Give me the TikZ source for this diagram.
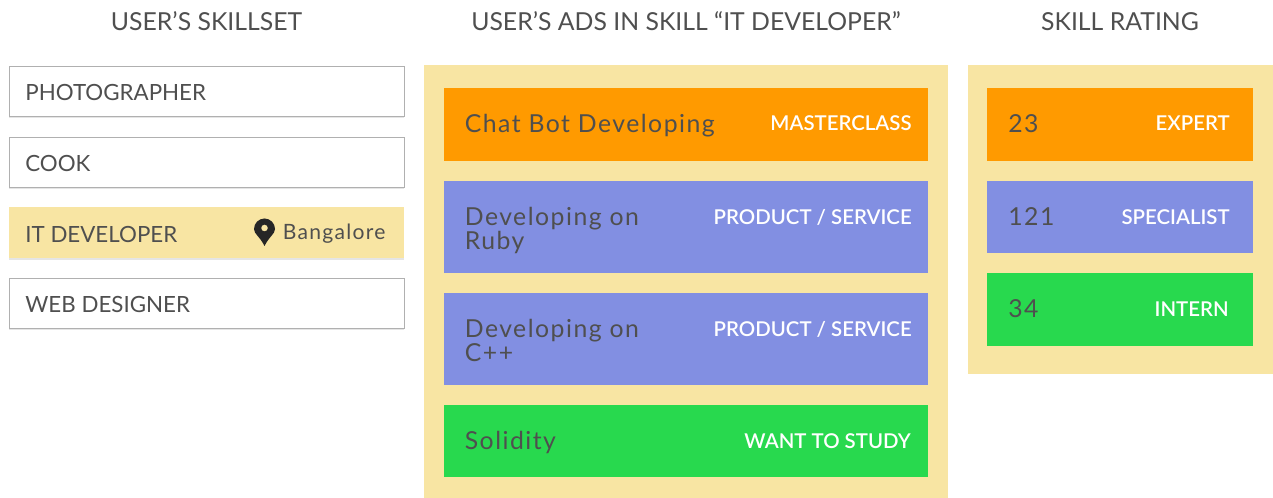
\documentclass[tikz,border=0pt]{standalone}
\usepackage{fontspec}
\setmainfont{Lato}
\newfontfamily\cardfont[LetterSpace=6]{Lato}
\newfontfamily\tagfont{Lato Semibold}
\usetikzlibrary{shadows}
\definecolor{panelyellow}{HTML}{F8E5A3}
\definecolor{cardorange}{HTML}{FF9A00}
\definecolor{cardblue}{HTML}{828FE2}
\definecolor{cardgreen}{HTML}{28D94E}
\definecolor{inkgrey}{HTML}{4F4F4F}
\definecolor{edgegrey}{HTML}{B0B0B0}
\tikzset{
  softshadow/.style={drop shadow={shadow xshift=0cm,shadow yshift=-.04cm,opacity=.1,fill=black}},
  skillbox/.style={draw=edgegrey,line width=.5pt,fill=white,softshadow},
  skillboxon/.style={fill=panelyellow,softshadow},
  headtext/.style={anchor=base,text=inkgrey,font=\fontsize{14.1}{16}\selectfont},
  skilltext/.style={anchor=base west,text=inkgrey,inner sep=0pt,font=\fontsize{12.7}{15}\selectfont},
  cardtext/.style={anchor=base west,text=inkgrey,inner sep=0pt,font=\cardfont\fontsize{14.1}{15}\selectfont},
  tagtext/.style={anchor=base east,text=white,inner sep=0pt,font=\tagfont\fontsize{11.6}{13}\selectfont}
}
\begin{document}
\begin{tikzpicture}
\useasboundingbox (0.,0.) rectangle (25.46,9.96);
% headings
\node[headtext] (headskills) at (4.13,9.34) {USER'S SKILLSET};
\node[headtext] (headads) at (13.72,9.34) {USER'S ADS IN SKILL “IT DEVELOPER”};
\node[headtext] (headrating) at (22.4,9.34) {SKILL RATING};
% skill list
\draw [skillbox] (0.18,8.64) rectangle (8.08,7.64);
\draw [skillbox] (0.18,7.22) rectangle (8.08,6.22);
\fill [skillboxon] (0.18,5.81) rectangle (8.08,4.8);
\draw [skillbox] (0.18,4.39) rectangle (8.08,3.4);
\node[skilltext] (photographer) at (0.5,7.94) {PHOTOGRAPHER};
\node[skilltext] (cook) at (0.5,6.52) {COOK};
\node[skilltext] (itdeveloper) at (0.5,5.1) {IT DEVELOPER};
\node[skilltext] (webdesigner) at (0.5,3.7) {WEB DESIGNER};
\node[cardtext,font=\cardfont\fontsize{12}{14}\selectfont] (bangalore) at (5.65,5.17) {Bangalore};
% pin
\fill [black!85] (5.29,5.04) .. controls (5.19,5.24) and (5.08,5.28) .. (5.08,5.38) arc (180:0:.21) .. controls (5.5,5.28) and (5.39,5.24) .. (5.29,5.04);
\fill [panelyellow] (5.29,5.4) circle (.065);
% panels
\fill [panelyellow] (8.48,0.) rectangle (18.96,8.66);
\fill [panelyellow] (19.35,2.48) rectangle (25.46,8.66);
% ads
\fill [cardorange] (8.87,8.19) rectangle (18.56,6.74);
\fill [cardblue] (8.87,6.34) rectangle (18.56,4.5);
\fill [cardblue] (8.87,4.1) rectangle (18.56,2.26);
\fill [cardgreen] (8.87,1.86) rectangle (18.56,0.42);
\node[cardtext] (chatbot) at (9.29,7.3) {Chat Bot Developing};
\node[cardtext] (rubyone) at (9.29,5.44) {Developing on};
\node[cardtext] (rubytwo) at (9.29,4.96) {Ruby};
\node[cardtext] (cppone) at (9.29,3.2) {Developing on};
\node[cardtext] (cpptwo) at (9.29,2.72) {C++};
\node[cardtext] (solidity) at (9.29,0.96) {Solidity};
\node[tagtext] (masterclass) at (18.24,7.34) {MASTERCLASS};
\node[tagtext] (productone) at (18.24,5.46) {PRODUCT / SERVICE};
\node[tagtext] (producttwo) at (18.24,3.22) {PRODUCT / SERVICE};
\node[tagtext] (wantstudy) at (18.22,0.98) {WANT TO STUDY};
% rating
\fill [cardorange] (19.74,8.19) rectangle (25.06,6.74);
\fill [cardblue] (19.74,6.34) rectangle (25.06,4.9);
\fill [cardgreen] (19.74,4.5) rectangle (25.06,3.04);
\node[cardtext] (numexpert) at (20.16,7.3) {23};
\node[cardtext] (numspecialist) at (20.16,5.44) {121};
\node[cardtext] (numintern) at (20.16,3.6) {34};
\node[tagtext] (expert) at (24.6,7.34) {EXPERT};
\node[tagtext] (specialist) at (24.6,5.46) {SPECIALIST};
\node[tagtext] (intern) at (24.58,3.62) {INTERN};
\end{tikzpicture}
\end{document}
